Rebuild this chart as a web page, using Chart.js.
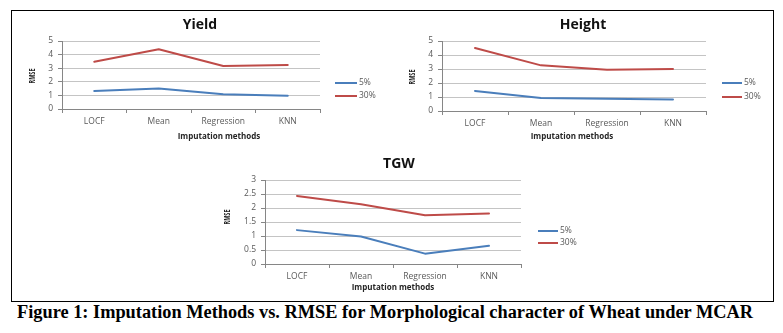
<!DOCTYPE html>
<html><head><meta charset="utf-8">
<script src="https://cdn.jsdelivr.net/npm/chart.js@4.4.1/dist/chart.umd.min.js"></script>
<style>
html,body{margin:0;padding:0;background:#fff}
body{width:783px;height:333px;position:relative;overflow:hidden}
#frame{position:absolute;left:11px;top:10px;width:763px;height:292px;border:1px solid #000;box-sizing:border-box}
canvas{position:absolute}
#cap{position:absolute;left:17px;top:303px;font-family:"Liberation Serif","Times New Roman",serif;font-weight:bold;font-size:18px;line-height:18px;white-space:nowrap;transform-origin:0 0;color:#000}
</style>
</head><body>
<div id="frame"></div>
<canvas id="cYield" style="left:11px;top:10px" width="380" height="140"></canvas>
<canvas id="cHeight" style="left:392px;top:10px" width="381" height="140"></canvas>
<canvas id="cTGW" style="left:200px;top:150px" width="400" height="143"></canvas>
<div id="cap">Figure 1: Imputation Methods vs. RMSE for Morphological character of Wheat under MCAR</div>
<script>
// ---- data ----
const categories = ['LOCF', 'Mean', 'Regression', 'KNN'];
const seriesLabels = ['5%', '30%'];
const yield5 = [1.33, 1.50, 1.09, 0.97];
const yield30 = [3.47, 4.39, 3.16, 3.23];
const height5 = [1.43, 0.93, 0.88, 0.83];
const height30 = [4.50, 3.26, 2.95, 3.00];
const tgw5 = [1.21, 0.98, 0.37, 0.65];
const tgw30 = [2.43, 2.13, 1.74, 1.80];
const yTicksYield = [0, 1, 2, 3, 4, 5];
const yTicksHeight = [0, 1, 2, 3, 4, 5];
const yTicksTGW = [0, 0.5, 1, 1.5, 2, 2.5, 3];
const xAxisTitle = 'Imputation methods';
const yAxisTitle = 'RMSE';

// ---- styles ----
const BLUE = '#4A7EBB', RED = '#BE4B48';
const TICK_COLOR = '#595959', AXIS = '#868686', GRID = '#c4c4c4';
const FONT = '"Open Sans", "Liberation Sans", sans-serif';

const decor = {
  id: 'decor',
  afterDraw(chart, args, o) {
    const ctx = chart.ctx;
    ctx.save();
    ctx.textAlign = 'center'; ctx.textBaseline = 'middle';
    ctx.fillStyle = '#111';
    ctx.font = 'bold 14px ' + FONT;
    ctx.fillText(o.title, o.titleX, o.titleY);
    ctx.fillStyle = '#262626';
    ctx.font = 'bold 8px ' + FONT;
    ctx.fillText(xAxisTitle, o.xTitleX, o.xTitleY);
    ctx.translate(o.yTitleX, o.yTitleY);
    ctx.rotate(-Math.PI / 2);
    ctx.font = 'bold 8px ' + FONT;
    const w = ctx.measureText(yAxisTitle).width;
    ctx.scale(o.yTitleLen / w, 1);
    ctx.fillText(yAxisTitle, 0, 0);
    ctx.restore();
    ctx.save();
    ctx.textBaseline = 'middle'; ctx.textAlign = 'left';
    chart.data.datasets.forEach((ds, i) => {
      const y = o.legY[i];
      ctx.strokeStyle = ds.borderColor; ctx.lineWidth = 2;
      ctx.beginPath(); ctx.moveTo(o.legX0, y); ctx.lineTo(o.legX1, y); ctx.stroke();
      ctx.fillStyle = TICK_COLOR; ctx.font = '8.5px ' + FONT;
      ctx.fillText(ds.label, o.legX1 + 2, y);
    });
    ctx.restore();
  }
};

function makeChart(id, title, s5, s30, yTicks, L) {
  const step = yTicks[1] - yTicks[0];
  return new Chart(document.getElementById(id), {
    type: 'line',
    data: {
      labels: categories,
      datasets: [
        { label: seriesLabels[0], data: s5, borderColor: BLUE, backgroundColor: BLUE, borderWidth: 2, pointRadius: 0, tension: 0, borderJoinStyle: 'round', borderCapStyle: 'round' },
        { label: seriesLabels[1], data: s30, borderColor: RED, backgroundColor: RED, borderWidth: 2, pointRadius: 0, tension: 0, borderJoinStyle: 'round', borderCapStyle: 'round' }
      ]
    },
    options: {
      responsive: false, animation: false, devicePixelRatio: 1,
      layout: { padding: { left: 0, top: L.padTop, right: L.padRight, bottom: L.padBottom } },
      plugins: {
        legend: { display: false }, title: { display: false }, tooltip: { enabled: false },
        decor: L.decor
      },
      scales: {
        x: {
          type: 'category', offset: true,
          grid: { offset: true, drawOnChartArea: false, drawTicks: true, tickLength: 4, color: AXIS },
          border: { color: AXIS, width: 1 },
          ticks: { color: TICK_COLOR, font: { family: FONT, size: 8.5 }, padding: 3, maxRotation: 0, autoSkip: false },
          afterFit: s => { s.height = 20; }
        },
        y: {
          min: yTicks[0], max: yTicks[yTicks.length - 1],
          grid: { color: GRID, tickColor: AXIS, tickLength: 4, lineWidth: 1 },
          border: { color: AXIS, width: 1 },
          ticks: { stepSize: step, color: TICK_COLOR, font: { family: FONT, size: 8.5 }, padding: 5,
                   callback: v => String(v) },
          afterFit: s => { s.width = L.yWidth; }
        }
      }
    },
    plugins: [decor]
  });
}

makeChart('cYield', 'Yield', yield5, yield30, yTicksYield, {
  padTop: 31, padRight: 71, padBottom: 21, yWidth: 51,
  decor: { title: 'Yield', titleX: 189, titleY: 15, xTitleX: 208, xTitleY: 127, yTitleX: 22, yTitleY: 66, yTitleLen: 15,
           legX0: 324, legX1: 346, legY: [73, 86] }
});
makeChart('cHeight', 'Height', height5, height30, yTicksHeight, {
  padTop: 31, padRight: 67, padBottom: 19, yWidth: 50,
  decor: { title: 'Height', titleX: 191, titleY: 15, xTitleX: 180, xTitleY: 127, yTitleX: 21, yTitleY: 67, yTitleLen: 15,
           legX0: 330, legX1: 350, legY: [73, 87] }
});
makeChart('cTGW', 'TGW', tgw5, tgw30, yTicksTGW, {
  padTop: 30, padRight: 79, padBottom: 9, yWidth: 65,
  decor: { title: 'TGW', titleX: 199, titleY: 14, xTitleX: 193, xTitleY: 138, yTitleX: 28, yTitleY: 67, yTitleLen: 15,
           legX0: 338, legX1: 358, legY: [81, 93] }
});

// caption fitted to reference width
const cap = document.getElementById('cap');
const natural = cap.getBoundingClientRect().width;
cap.style.transform = 'scaleX(' + (736 / natural) + ')';
</script>
</body></html>
